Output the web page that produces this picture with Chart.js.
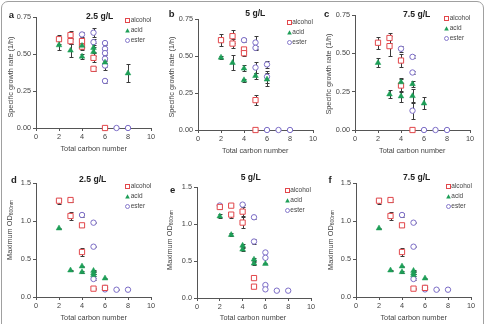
<!DOCTYPE html>
<html>
<head>
<meta charset="utf-8">
<script src="https://cdn.jsdelivr.net/npm/chart.js@4/dist/chart.umd.min.js"></script>
<style>
    body { margin: 0; width: 485px; height: 324px; overflow: hidden; position: relative; background: #fff;
           font-family: "Liberation Sans", Arial, sans-serif; color: #333; }
    .frame { position: absolute; left: 1px; top: 1px; width: 481px; height: 345px; border: 1px solid #a0a0a0; border-radius: 7px; }
    canvas { position: absolute; }
    .t { position: absolute; white-space: nowrap; line-height: 1; transform: translate(-50%, -50%); }
    .letter { font-weight: bold; font-size: 9.5px; color: #222; }
    .title { font-weight: bold; font-size: 8.6px; color: #222; }
    .axt { font-size: 7.3px; color: #444; }
    .yt { transform: translate(-50%, -50%) rotate(-90deg); }
    .yt sub { font-size: 5px; vertical-align: -1px; }
    .leg { position: absolute; font-size: 6.5px; color: #444; line-height: 1; white-space: nowrap; }
    .leg svg { vertical-align: -1px; margin-right: 0.5px; }
</style>
</head>
<body>
<div class="frame"></div>
<div id="root"></div>
<script>
// x = total carbon number, y = value, e = error (±)
// Specific growth rate (1/h)
const aAlcohol = [[2, 0.60, 0.03], [3, 0.628, 0.03], [3, 0.587, 0.02], [4, 0.587, 0.02], [4, 0.55, 0.02], [5, 0.474, 0.03], [5, 0.40, 0.015], [6, 0, 0]];
const aAcid    = [[2, 0.56, 0.03], [3, 0.524, 0.045], [4, 0.483, 0.02], [4, 0.556, 0.02], [5, 0.542, 0.03], [5, 0.515, 0.03], [6, 0.443, 0.03], [8, 0.37, 0.06]];
const aEster   = [[4, 0.632, 0.02], [5, 0.644, 0.03], [5, 0.58, 0.02], [6, 0.574, 0.01], [6, 0.535, 0.01], [6, 0.506, 0.01], [6, 0.468, 0.01], [6, 0.422, 0.03], [6, 0.318, 0.015], [7, 0, 0], [8, 0, 0]];

const bAlcohol = [[2, 0.607, 0.04], [3, 0.634, 0.045], [3, 0.584, 0.03], [4, 0.544, 0.02], [4, 0.519, 0.02], [5, 0.202, 0.035], [5, 0, 0]];
const bAcid    = [[2, 0.49, 0.01], [3, 0.454, 0.05], [4, 0.416, 0.02], [4, 0.337, 0.01], [5, 0.366, 0.02], [6, 0.342, 0.045]];
const bEster   = [[4, 0.607, 0.015], [5, 0.591, 0.045], [5, 0.555, 0.015], [5, 0.422, 0.04], [6, 0.443, 0.025], [6, 0.36, 0.04], [6, 0, 0], [7, 0, 0], [8, 0, 0]];

const cAlcohol = [[2, 0.569, 0.04], [3, 0.60, 0.03], [3, 0.547, 0.065], [4, 0.453, 0.045], [4, 0.29, 0.045], [5, 0, 0]];
const cAcid    = [[2, 0.438, 0.03], [3, 0.233, 0.025], [4, 0.312, 0.025], [4, 0.22, 0.035], [5, 0.30, 0.02], [5, 0.222, 0.045], [6, 0.174, 0.04]];
const cEster   = [[4, 0.53, 0.02], [5, 0.477, 0.01], [5, 0.375, 0.01], [5, 0.126, 0.055], [6, 0, 0], [7, 0, 0], [8, 0, 0]];

// Maximum OD600nm
const dAlcohol = [[2, 1.267, 0.04], [3, 1.276, 0.02], [3, 1.066, 0.05], [4, 0.943, 0.02], [4, 0.592, 0.05], [5, 0.11, 0.01], [6, 0.12, 0.01]];
const dAcid    = [[2, 0.904, 0.01], [3, 0.351, 0.01], [4, 0.404, 0.01], [4, 0.329, 0.01], [5, 0.346, 0.01], [5, 0.316, 0.01], [5, 0.29, 0.01], [6, 0.246, 0.01]];
const dEster   = [[4, 1.079, 0.03], [5, 0.978, 0.01], [5, 0.662, 0.01], [5, 0.237, 0.01], [6, 0.12, 0.01], [6, 0.10, 0.01], [7, 0.096, 0.01], [8, 0.096, 0.01]];

const eAlcohol = [[2, 1.23, 0.03], [3, 1.248, 0.01], [3, 1.127, 0.04], [4, 1.167, 0.06], [4, 1.019, 0.07], [5, 0.269, 0.01], [5, 0.153, 0.01]];
const eAcid    = [[2, 1.105, 0.03], [3, 0.853, 0.02], [4, 0.709, 0.02], [4, 0.656, 0.02], [5, 0.521, 0.02], [5, 0.467, 0.02], [6, 0.463, 0.01]];
const eEster   = [[2, 1.25, 0.02], [4, 1.262, 0.01], [5, 1.091, 0.02], [5, 0.763, 0.04], [6, 0.615, 0.01], [6, 0.543, 0.01], [6, 0.175, 0.01], [6, 0.117, 0.01], [7, 0.099, 0.01], [8, 0.099, 0.01]];

const fAlcohol = [[2, 1.267, 0.04], [3, 1.276, 0.02], [3, 1.066, 0.05], [4, 0.943, 0.02], [4, 0.592, 0.05], [5, 0.11, 0.01], [6, 0.12, 0.01]];
const fAcid    = [[2, 0.904, 0.01], [3, 0.351, 0.01], [4, 0.404, 0.01], [4, 0.329, 0.01], [5, 0.346, 0.01], [5, 0.316, 0.01], [5, 0.29, 0.01], [6, 0.246, 0.01]];
const fEster   = [[4, 1.079, 0.03], [5, 0.978, 0.01], [5, 0.662, 0.01], [5, 0.237, 0.01], [6, 0.12, 0.01], [6, 0.10, 0.01], [7, 0.096, 0.01], [8, 0.096, 0.01]];

const seriesNames = ['alcohol', 'acid', 'ester'];
const xTicks = [0, 2, 4, 6, 8, 10];
const rateTicks = [0, 0.25, 0.5, 0.75];
const odTicks = [0, 0.5, 1.0, 1.5];

const RED = '#e2474b', GREEN = '#1d9e57', PURPLE = '#7b6cc6';

// area = chart area [left, top, right, bottom]; other entries are text anchors
const panels = [
    { letter: 'a', title: '2.5 g/L', kind: 'rate', sets: [aAlcohol, aAcid, aEster],
      area: [36, 17.3, 151, 128], L: [11.3, 14.7], T: [99.7, 15.7], Y: [10.7, 76.7], X: [93.7, 149], G: [127.7, 20.7] },
    { letter: 'b', title: '5 g/L', kind: 'rate', sets: [bAlcohol, bAcid, bEster],
      area: [197.7, 18.7, 312.7, 130], L: [171.7, 14], T: [255.3, 12.7], Y: [172.3, 77.3], X: [255.3, 150.7], G: [289.3, 22] },
    { letter: 'c', title: '7.5 g/L', kind: 'rate', sets: [cAlcohol, cAcid, cEster],
      area: [355, 14.7, 470, 129.3], L: [326.7, 14], T: [416.7, 14], Y: [329.3, 74], X: [412.3, 150.7], G: [446.7, 18.3] },
    { letter: 'd', title: '2.5 g/L', kind: 'od', sets: [dAlcohol, dAcid, dEster],
      area: [36, 183.3, 151, 297.3], L: [14, 180], T: [92.7, 179], Y: [10, 230], X: [93.7, 318.3], G: [127.7, 186.3] },
    { letter: 'e', title: '5 g/L', kind: 'od', sets: [eAlcohol, eAcid, eEster],
      area: [196.7, 186.7, 311, 298], L: [172.7, 190], T: [250.7, 176.7], Y: [170, 240], X: [253, 318.3], G: [287.3, 190.3] },
    { letter: 'f', title: '7.5 g/L', kind: 'od', sets: [fAlcohol, fAcid, fEster],
      area: [356, 183, 471, 297], L: [330, 180], T: [416.7, 176.7], Y: [330.7, 240], X: [413.7, 318.3], G: [448.3, 186.3] },
];

const errorBars = {
    id: 'errorBars',
    beforeDatasetsDraw(chart) {
        const { ctx, scales: { x, y } } = chart;
        ctx.save();
        ctx.strokeStyle = '#3a3a3a';
        ctx.lineWidth = 1;
        chart.data.datasets.forEach(ds => ds.data.forEach(p => {
            if (!p.e) return;
            const px = Math.round(x.getPixelForValue(p.x)) + 0.5;
            const y1 = Math.round(y.getPixelForValue(p.y + p.e)) + 0.5;
            const y2 = Math.round(y.getPixelForValue(p.y - p.e)) + 0.5;
            ctx.beginPath();
            ctx.moveTo(px, y1); ctx.lineTo(px, y2);
            ctx.moveTo(px - 2, y1); ctx.lineTo(px + 2, y1);
            ctx.moveTo(px - 2, y2); ctx.lineTo(px + 2, y2);
            ctx.stroke();
        }));
        ctx.restore();
    }
};

const PAD_L = 40, PAD_T = 22, PAD_R = 12, PAD_B = 30;
const root = document.getElementById('root');

function addText(cls, html, pos) {
    const d = document.createElement('div');
    d.className = 't ' + cls;
    d.innerHTML = html;
    d.style.left = pos[0] + 'px';
    d.style.top = pos[1] + 'px';
    root.appendChild(d);
}

const markerSvg = [
    `<svg width="5" height="5"><rect x="0.5" y="0.5" width="4" height="4" fill="#fff" stroke="${RED}" stroke-width="1"/></svg>`,
    `<svg width="5" height="5"><polygon points="2.5,0.3 4.8,4.6 0.2,4.6" fill="${GREEN}"/></svg>`,
    `<svg width="5" height="5"><circle cx="2.5" cy="2.5" r="2" fill="#fff" stroke="${PURPLE}" stroke-width="0.9"/></svg>`,
];

panels.forEach(p => {
    const [l, t, r, b] = p.area;
    const cv = document.createElement('canvas');
    const w = Math.round(r - l + PAD_L + PAD_R), h = Math.round(b - t + PAD_T + PAD_B);
    cv.width = w; cv.height = h;
    cv.style.left = (l - PAD_L) + 'px';
    cv.style.top = (t - PAD_T) + 'px';
    root.appendChild(cv);

    const isRate = p.kind === 'rate';
    const yTicks = isRate ? rateTicks : odTicks;
    const tickFont = { family: '"Liberation Sans", Arial, sans-serif', size: 7.3 };

    const styles = [
        { pointStyle: 'rect', pointRadius: 3.7, borderColor: RED, backgroundColor: '#fff', borderWidth: 1 },
        { pointStyle: 'triangle', pointRadius: 3.3, borderColor: GREEN, backgroundColor: GREEN, borderWidth: 0.5 },
        { pointStyle: 'circle', pointRadius: 2.7, borderColor: PURPLE, backgroundColor: '#fff', borderWidth: 1 },
    ];

    new Chart(cv, {
        type: 'scatter',
        data: {
            datasets: p.sets.map((set, i) => ({
                label: seriesNames[i],
                data: set.map(v => ({ x: v[0], y: v[1], e: v[2] })),
                clip: false,
                order: i === 1 ? 0 : 1,
                ...styles[i],
            }))
        },
        options: {
            responsive: false,
            animation: false,
            events: [],
            layout: { padding: { left: 0, top: PAD_T, right: PAD_R, bottom: 0 } },
            plugins: { legend: { display: false }, tooltip: { enabled: false } },
            scales: {
                x: {
                    type: 'linear', min: xTicks[0], max: xTicks[xTicks.length - 1],
                    afterBuildTicks: s => { s.ticks = xTicks.map(v => ({ value: v })); },
                    afterFit: s => { s.height = PAD_B; },
                    grid: { drawOnChartArea: false, tickLength: 3, color: '#555' },
                    border: { color: '#555', width: 1 },
                    ticks: { color: '#444', font: tickFont, padding: 2, maxRotation: 0 },
                },
                y: {
                    type: 'linear', min: yTicks[0], max: yTicks[yTicks.length - 1],
                    afterBuildTicks: s => { s.ticks = yTicks.map(v => ({ value: v })); },
                    afterFit: s => { s.width = PAD_L; },
                    grid: { drawOnChartArea: false, tickLength: 3, color: '#555' },
                    border: { color: '#555', width: 1 },
                    ticks: { color: '#444', font: tickFont, padding: 2, callback: v => v.toFixed(isRate ? 2 : 1) },
                }
            }
        },
        plugins: [errorBars]
    });

    addText('letter', p.letter, p.L);
    addText('title', p.title, p.T);
    addText('axt', 'Total carbon number', p.X);
    addText('axt yt', isRate ? 'Specific growth rate (1/h)' : 'Maximum OD<sub>600nm</sub>', p.Y);

    seriesNames.forEach((name, i) => {
        const d = document.createElement('div');
        d.className = 'leg';
        d.innerHTML = markerSvg[i] + name;
        d.style.left = (p.G[0] - 2.5) + 'px';
        d.style.top = (p.G[1] + i * 10 - 3.5) + 'px';
        root.appendChild(d);
    });
});
</script>
</body>
</html>
